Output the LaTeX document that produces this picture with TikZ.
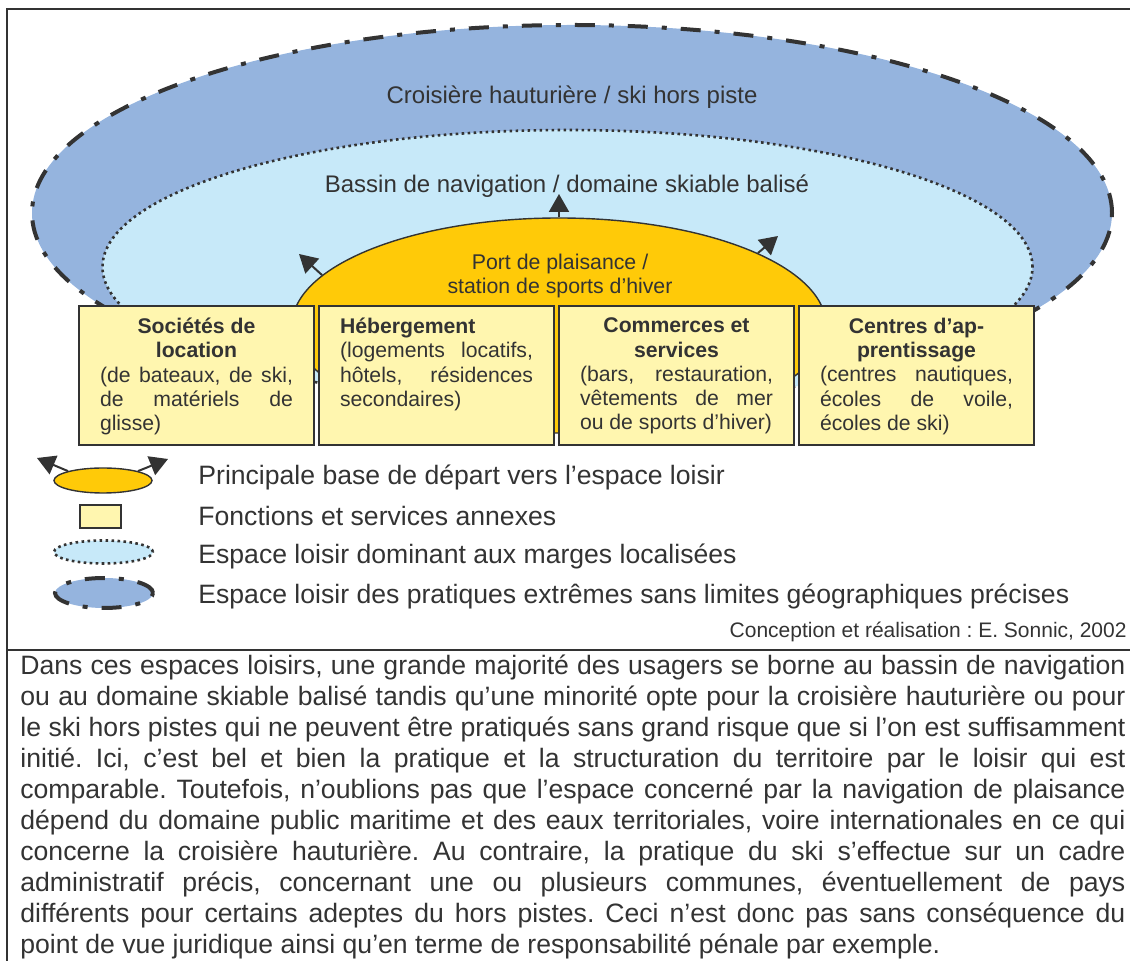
\documentclass[tikz,border=0pt]{standalone}
\usepackage{fontspec}
\setmainfont{Liberation Sans}
\usepackage{tikz}
\usetikzlibrary{arrows.meta,positioning,shapes.geometric}

\definecolor{ink}{HTML}{333333}
\definecolor{bigblue}{HTML}{95B4DE}
\definecolor{midblue}{HTML}{C7E9F9}
\definecolor{portgold}{HTML}{FFCA08}
\definecolor{annexyellow}{HTML}{FFF6AF}

\newcommand{\boxtext}[1]{\parbox[c][57.5pt][t]{96.5pt}{\fontsize{10.6}{12.15}\selectfont\hyphenpenalty=10000\tolerance=10000 #1}}
\frenchspacing

\begin{document}
\begin{tikzpicture}[x=0.5pt,y=-0.5pt,
  >={Triangle[length=9pt,width=10pt]},
  frame/.style={draw=ink,line width=1pt},
  bigzone/.style={ellipse,draw=ink,fill=bigblue,line width=2pt,dash pattern=on 10pt off 7pt on 2.5pt off 7pt,inner sep=0pt},
  midzone/.style={ellipse,draw=ink,fill=midblue,line width=1.3pt,dash pattern=on 1.3pt off 1.7pt,inner sep=0pt},
  portzone/.style={ellipse,draw=ink,fill=portgold,line width=0.7pt,inner sep=0pt},
  annex/.style={draw=ink,fill=annexyellow,line width=1pt,inner xsep=10.5pt,inner ysep=6pt,text=ink},
  zonelabel/.style={text=ink,font=\fontsize{12}{14}\selectfont,inner sep=0pt},
  legtext/.style={text=ink,font=\fontsize{13.3}{15}\selectfont,anchor=base west,inner sep=0pt},
  outarrow/.style={->,draw=ink,line width=1pt}]
\useasboundingbox (0,0) rectangle (1130,961);
% frame
\draw[frame] (1130,9) -- (7,9) -- (7,961);
\draw[frame] (7,650) -- (1130,650);
% zones
\node[bigzone,minimum width=540pt,minimum height=188pt] (hauturiere) at (572,213) {};
\node[midzone,minimum width=465pt,minimum height=137pt] (bassin) at (567.5,267) {};
\node[portzone,minimum width=267pt,minimum height=107.5pt] (port) at (559,325.5) {};
\coordinate (tipN) at (559,194);
\coordinate (tipW) at (299,254);
\coordinate (tipE) at (778,236);
\draw[outarrow] (port.north) -- (tipN);
\draw[outarrow] (port.168) -- (tipW);
\draw[outarrow] (port.20) -- (tipE);
\node[zonelabel,anchor=base] (hauturierelabel) at (572,104) {Croisière hauturière / ski hors piste};
\node[zonelabel,anchor=base] (bassinlabel) at (567,193) {Bassin de navigation / domaine skiable balisé};
\node[text=ink,align=center,font=\fontsize{10.65}{12}\selectfont,inner sep=0pt] (portlabel) at (560,276) {Port de plaisance /\\station de sports d’hiver};
% services annexes
\node[annex] (location) at (196.5,375.5) {\boxtext{{\centering\bfseries Sociétés de\\location\par}(de bateaux, de ski,\linebreak de matériels de\linebreak glisse)}};
\node[annex,right=1.5pt of location] (hebergement) {\boxtext{{\bfseries Hébergement\par}(logements locatifs,\linebreak hôtels, résidences\linebreak secondaires)}};
\node[annex,right=1.5pt of hebergement] (commerces) {\boxtext{{\centering\bfseries Commerces et\\services\par}(bars, restauration,\linebreak vêtements de mer\linebreak ou de sports d’hiver)}};
\node[annex,right=1.5pt of commerces] (apprentissage) {\boxtext{{\centering\bfseries Centres d’ap-\\prentissage\par}(centres nautiques,\linebreak écoles de voile,\linebreak écoles de ski)}};
% legende
\coordinate (legtipW) at (37,458);
\coordinate (legtipE) at (168,459);
\node[portzone,minimum width=49pt,minimum height=12.5pt] (legport) at (103,480.5) {};
\draw[outarrow] (legport.165) -- (legtipW);
\draw[outarrow] (legport.15) -- (legtipE);
\node[annex,minimum width=20.5pt,minimum height=11.5pt,inner sep=0pt] (legannex) at (100.5,516.5) {};
\node[midzone,minimum width=49.5pt,minimum height=11.5pt] (legbassin) at (103.5,552) {};
\node[bigzone,minimum width=49pt,minimum height=15pt] (leghauturiere) at (104,593) {};
\node[legtext] (legporttext) at (198,484.5) {Principale base de départ vers l’espace loisir};
\node[legtext] (legannextext) at (198,525.5) {Fonctions et services annexes};
\node[legtext] (legbassintext) at (198,563.5) {Espace loisir dominant aux marges localisées};
\node[legtext] (leghauturieretext) at (198,603.5) {Espace loisir des pratiques extrêmes sans limites géographiques précises};
\node[text=ink,font=\fontsize{10.5}{12}\selectfont,anchor=base east,inner sep=0pt] (credit) at (1127,638) {Conception et réalisation : E. Sonnic, 2002};
% commentaire
\node[anchor=north west,inner sep=0pt,text=ink] (commentaire) at (20,655) {\parbox{552.5pt}{\fontsize{13.3}{15.5}\selectfont\hyphenpenalty=10000\tolerance=10000
Dans ces espaces loisirs, une grande majorité des usagers se borne au bassin de navigation\linebreak
ou au domaine skiable balisé tandis qu’une minorité opte pour la croisière hauturière ou pour\linebreak
le ski hors pistes qui ne peuvent être pratiqués sans grand risque que si l’on est suffisamment\linebreak
initié. Ici, c’est bel et bien la pratique et la structuration du territoire par le loisir qui est\linebreak
comparable. Toutefois, n’oublions pas que l’espace concerné par la navigation de plaisance\linebreak
dépend du domaine public maritime et des eaux territoriales, voire internationales en ce qui\linebreak
concerne la croisière hauturière. Au contraire, la pratique du ski s’effectue sur un cadre\linebreak
administratif précis, concernant une ou plusieurs communes, éventuellement de pays\linebreak
différents pour certains adeptes du hors pistes. Ceci n’est donc pas sans conséquence du\linebreak
point de vue juridique ainsi qu’en terme de responsabilité pénale par exemple.}};
\end{tikzpicture}
\end{document}
